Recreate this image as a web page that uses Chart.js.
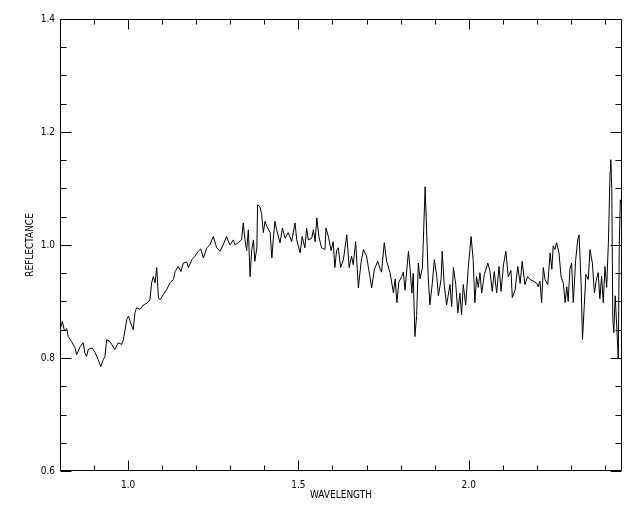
<!DOCTYPE html>
<html>
<head>
<meta charset="utf-8">
<script src="https://cdn.jsdelivr.net/npm/chart.js@4.4.1/dist/chart.umd.min.js"></script>
<style>
html,body{margin:0;padding:0;background:#fff;}
#wrap{width:640px;height:512px;}
</style>
</head>
<body>
<div id="wrap"><canvas id="c" width="640" height="512"></canvas></div>
<script>
const wavelength = [
0.803,0.807,0.813,0.820,0.824,0.834,0.844,0.849,0.859,0.868,0.873,0.878,0.883,0.893,0.903,0.912,0.920,0.927,0.932,0.937,0.947,0.952,0.961,0.971,0.981,0.986,0.996,1.001,1.011,1.015,1.020,1.025,1.035,1.045,1.055,1.064,1.069,1.074,1.079,1.084,1.089,1.094,1.103,1.113,1.123,1.133,1.138,1.147,1.155,1.162,1.172,1.177,1.187,1.196,1.206,1.213,
1.221,1.231,1.240,1.250,1.260,1.270,1.279,1.289,1.299,1.309,1.314,1.323,1.333,1.338,1.343,1.348,1.353,1.358,1.363,1.368,1.372,1.378,1.380,1.387,1.392,1.397,1.402,1.407,1.417,1.422,1.426,1.431,1.436,1.446,1.453,1.461,1.470,1.480,1.490,1.495,1.505,1.511,1.519,1.524,1.529,1.539,1.544,1.549,1.554,1.560,1.568,1.578,1.581,1.588,1.596,1.602,1.607,1.612,1.617,1.624,1.632,
1.642,1.649,1.656,1.661,1.668,1.676,1.684,1.691,1.700,1.710,1.715,1.723,1.733,1.740,1.744,1.752,1.759,1.769,1.779,1.784,1.789,1.795,1.803,1.808,1.813,1.823,1.828,1.833,1.837,1.842,1.847,1.852,1.857,1.864,1.872,1.877,1.881,1.886,1.893,1.899,1.906,1.911,1.919,1.922,1.928,1.935,1.945,1.950,1.955,1.962,1.968,1.974,1.979,1.984,1.991,1.999,2.007,2.013,2.018,
2.023,2.028,2.033,2.038,2.046,2.056,2.062,2.069,2.075,2.082,2.089,2.095,2.102,2.109,2.116,2.124,2.128,2.136,2.144,2.151,2.157,2.165,2.173,2.180,2.190,2.200,2.204,2.209,2.214,2.219,2.224,2.232,2.239,2.244,2.248,2.253,2.258,2.265,2.271,2.278,2.283,2.288,2.292,2.297,2.302,2.307,2.314,2.320,2.324,2.330,2.334,2.339,2.344,2.351,2.356,2.363,2.369,2.374,2.380,2.385,2.390,2.395,2.400,2.405,2.410,2.415,2.417,2.420,2.423,2.426,2.430,2.435,2.439,2.442,2.445,2.449
];
const reflectance = [
0.855,0.865,0.848,0.852,0.838,0.829,0.818,0.806,0.820,0.827,0.809,0.803,0.815,0.818,0.810,0.797,0.785,0.797,0.803,0.832,0.829,0.824,0.815,0.827,0.824,0.832,0.868,0.874,0.856,0.850,0.880,0.889,0.886,0.894,0.897,0.903,0.933,0.944,0.933,0.960,0.906,0.903,0.912,0.921,0.933,0.939,0.953,0.962,0.953,0.968,0.970,0.960,0.974,0.980,0.989,0.993,
0.977,0.995,1.000,1.015,0.995,0.989,1.000,1.015,1.000,1.009,1.000,1.004,1.009,1.039,1.010,0.990,1.027,0.944,0.992,1.009,0.971,0.995,1.071,1.068,1.054,1.022,1.042,1.033,1.022,0.977,1.009,1.042,1.027,1.004,1.030,1.012,1.022,1.006,1.039,1.009,0.986,1.015,0.995,1.030,1.009,1.012,1.027,1.006,1.048,1.015,0.995,0.992,1.030,1.015,0.990,1.006,0.960,0.990,0.995,0.960,0.974,
1.018,0.960,0.980,0.965,1.006,0.924,0.970,0.992,0.980,0.944,0.924,0.957,0.971,0.957,0.952,1.004,0.971,0.951,0.915,0.940,0.898,0.935,0.944,0.952,0.920,0.989,0.957,0.915,0.950,0.838,0.875,0.968,0.940,0.960,1.103,1.015,0.944,0.894,0.932,0.974,0.946,0.910,0.940,0.989,0.930,0.894,0.930,0.891,0.960,0.930,0.880,0.915,0.877,0.930,0.894,0.962,1.015,0.974,0.898,
0.944,0.925,0.951,0.915,0.948,0.968,0.955,0.918,0.953,0.915,0.962,0.918,0.965,0.989,0.944,0.955,0.907,0.920,0.962,0.932,0.971,0.930,0.944,0.939,0.936,0.932,0.926,0.936,0.898,0.960,0.939,0.930,0.986,0.957,0.998,0.992,1.004,0.986,0.944,0.932,0.898,0.926,0.900,0.957,0.968,0.898,0.974,1.009,1.018,0.930,0.833,0.890,0.948,0.939,0.992,0.968,0.915,0.936,0.951,0.905,0.945,0.898,0.962,0.925,1.004,1.130,1.151,1.100,0.870,0.845,0.910,0.850,0.800,1.000,1.080,1.070
];
const xMajorTicks = [1.0, 1.5, 2.0];
const xMinorTicks = [0.9, 1.1, 1.2, 1.3, 1.4, 1.6, 1.7, 1.8, 1.9, 2.1, 2.2, 2.3, 2.4];
const yMajorTicks = [0.6, 0.8, 1.0, 1.2, 1.4];
const yMinorTicks = [0.65, 0.7, 0.75, 0.85, 0.9, 0.95, 1.05, 1.1, 1.15, 1.25, 1.3, 1.35];
const xTitle = 'WAVELENGTH';
const yTitle = 'REFLECTANCE';

const points = wavelength.map((w, i) => ({x: w, y: reflectance[i]}));

Chart.defaults.font.family = '"DejaVu Sans Condensed", "Liberation Sans Narrow", "Liberation Sans", Arial, sans-serif';
Chart.defaults.font.size = 10;
Chart.defaults.color = '#000';

const frameTicks = {
  id: 'frameTicks',
  afterDatasetsDraw(chart) {
    const {ctx, chartArea: a, scales} = chart;
    const xs = scales.x, ys = scales.y;
    const L = Math.round(a.left) + 0.5, R = Math.round(a.right) - 0.5;
    const T = Math.round(a.top) + 0.5, B = Math.round(a.bottom) - 0.5;
    ctx.save();
    ctx.strokeStyle = '#000';
    ctx.lineWidth = 1;
    ctx.beginPath();
    ctx.rect(L, T, R - L, B - T);
    function xt(v, len) {
      const px = Math.round(xs.getPixelForValue(v)) + 0.5;
      ctx.moveTo(px, B); ctx.lineTo(px, B - len);
      ctx.moveTo(px, T); ctx.lineTo(px, T + len);
    }
    function yt(v, len) {
      const py = Math.round(ys.getPixelForValue(v)) + 0.5;
      ctx.moveTo(L, py); ctx.lineTo(L + len, py);
      ctx.moveTo(R, py); ctx.lineTo(R - len, py);
    }
    xMajorTicks.forEach(v => xt(v, 10));
    xMinorTicks.forEach(v => xt(v, 5));
    yMajorTicks.forEach(v => yt(v, 11));
    yMinorTicks.forEach(v => yt(v, 6));
    ctx.stroke();
    ctx.restore();
  }
};

new Chart(document.getElementById('c'), {
  type: 'line',
  data: {
    datasets: [{
      data: points,
      borderColor: '#000',
      borderWidth: 1,
      pointRadius: 0,
      tension: 0,
      fill: false
    }]
  },
  options: {
    responsive: false,
    animation: false,
    layout: {padding: {left: 0, top: 19, right: 18, bottom: 0}},
    plugins: {legend: {display: false}, tooltip: {enabled: false}},
    scales: {
      x: {
        type: 'linear',
        min: 0.8, max: 2.45,
        grid: {display: false, drawTicks: false},
        border: {display: false},
        afterBuildTicks: s => { s.ticks = xMajorTicks.map(v => ({value: v})); },
        afterFit: s => { s.height = 41; },
        ticks: {padding: 8, maxRotation: 0, callback: v => v.toFixed(1)},
        title: {display: true, text: xTitle, padding: {top: 0, bottom: 11}}
      },
      y: {
        type: 'linear',
        min: 0.6, max: 1.4,
        grid: {display: false, drawTicks: false},
        border: {display: false},
        afterBuildTicks: s => { s.ticks = yMajorTicks.map(v => ({value: v})); },
        afterFit: s => { s.width = 60; },
        ticks: {padding: 5, callback: v => v.toFixed(1)},
        title: {display: true, text: yTitle, padding: {top: 24, bottom: 0}}
      }
    }
  },
  plugins: [frameTicks]
});
</script>
</body>
</html>
